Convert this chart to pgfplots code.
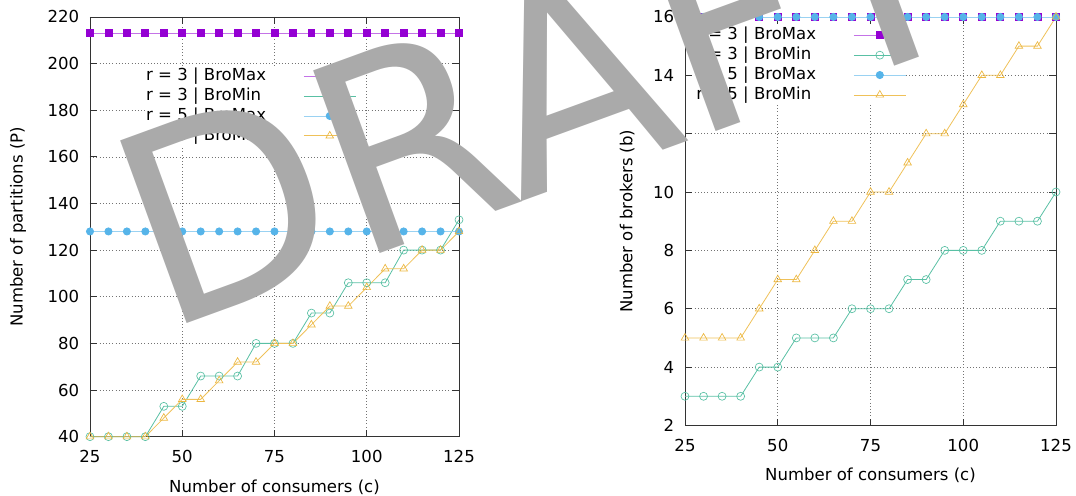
\documentclass[border=0pt]{standalone}
\usepackage{fontspec}
\setmainfont{DejaVu Sans}
\usepackage{pgfplots}
\usepackage{pgfplotstable}
\pgfplotsset{compat=1.18}
\definecolor{cpurple}{HTML}{9400D3}
\definecolor{cgreen}{HTML}{009E73}
\definecolor{cblue}{HTML}{56B4E9}
\definecolor{corange}{HTML}{E69F00}
\definecolor{wmgray}{RGB}{170,170,170}

\pgfplotstableread{
c   pmaxA pminA pmaxB pminB
25  213   40    128   40
30  213   40    128   40
35  213   40    128   40
40  213   40    128   40
45  213   53    128   48
50  213   53    128   56
55  213   66    128   56
60  213   66    128   64
65  213   66    128   72
70  213   80    128   72
75  213   80    128   80
80  213   80    128   80
85  213   93    128   88
90  213   93    128   96
95  213   106   128   96
100 213   106   128   104
105 213   106   128   112
110 213   120   128   112
115 213   120   128   120
120 213   120   128   120
125 213   133   128   128
}\partitions

\pgfplotstableread{
c   bmaxA bminA bmaxB bminB
25  16    3     16    5
30  16    3     16    5
35  16    3     16    5
40  16    3     16    5
45  16    4     16    6
50  16    4     16    7
55  16    5     16    7
60  16    5     16    8
65  16    5     16    9
70  16    6     16    9
75  16    6     16    10
80  16    6     16    10
85  16    7     16    11
90  16    7     16    12
95  16    8     16    12
100 16    8     16    13
105 16    8     16    14
110 16    9     16    14
115 16    9     16    15
120 16    9     16    15
125 16    10    16    16
}\brokers

\pgfplotsset{
  gpstyle/.style={
    scale only axis,
    xmin=25, xmax=125,
    xtick={25,50,75,100,125},
    grid=major,
    grid style={dotted, black!55, line width=0.5pt},
    tick align=inside,
    tick pos=both,
    major tick length=5pt,
    axis line style={black!80, line width=0.6pt},
    tick style={black!80, line width=0.6pt},
    clip=false,
    /pgf/number format/assume math mode=true,
    ticklabel style={font=\fontsize{12.4}{14}\selectfont},
    xticklabel style={anchor=center, yshift=-15pt},
    yticklabel style={anchor=east, inner sep=0pt, xshift=-8pt},
    legend plot pos=right,
    legend cell align=left,
    legend image code/.code={\draw[mark repeat=2, mark phase=2] plot coordinates {(0pt,0pt) (19.5pt,0pt) (39pt,0pt)};},
    legend style={draw=none, fill=white, inner sep=0pt, column sep=27pt, row sep=0pt,
      font=\fontsize{12.4}{14}\selectfont,
      nodes={inner sep=1pt, text height=9.6pt, text depth=3.3pt}},
  },
  sA/.style={color=cpurple!55, line width=0.6pt, mark=square*, mark size=2.6pt, mark options={color=cpurple, fill=cpurple}},
  sB/.style={color=cgreen!65, line width=0.6pt, mark=o, mark size=3pt, mark options={line width=0.5pt, color=cgreen!65}},
  sC/.style={color=cblue!60, line width=0.6pt, mark=*, mark size=2.7pt, mark options={color=cblue, fill=cblue}},
  sD/.style={color=corange!65, line width=0.6pt, mark=triangle, mark size=3.3pt, mark options={line width=0.5pt, color=corange!75}},
}

\begin{document}
\begin{tikzpicture}
\useasboundingbox (0,0) rectangle (807pt,372pt);
\begin{axis}[gpstyle,
  at={(67.5pt,44.5pt)}, anchor=south west,
  width=276.75pt, height=314.8pt,
  ymin=40, ymax=220, ytick={40,60,...,220},
  xlabel={Number of consumers (c)},
  ylabel={Number of partitions (P)},
  every axis x label/.style={at={(axis description cs:0.5,-0.12)}, anchor=center, font=\fontsize{12.4}{14}\selectfont},
  every axis y label/.style={at={(axis description cs:-0.195,0.5)}, rotate=90, anchor=center, font=\fontsize{12.4}{14}\selectfont},
  legend style={at={(axis description cs:0.148,0.883)}, anchor=north west},
]
\addplot[sA] table[x=c, y=pmaxA] {\partitions};
\addlegendentry{r = 3 | BroMax}
\addplot[sB] table[x=c, y=pminA] {\partitions};
\addlegendentry{r = 3 | BroMin}
\addplot[sC] table[x=c, y=pmaxB] {\partitions};
\addlegendentry{r = 5 | BroMax}
\addplot[sD] table[x=c, y=pminB] {\partitions};
\addlegendentry{r = 5 | BroMin}
\end{axis}

\begin{axis}[gpstyle,
  at={(513.75pt,52.9pt)}, anchor=south west,
  width=278.25pt, height=306.4pt,
  ymin=2, ymax=16, ytick={2,4,...,16},
  xlabel={Number of consumers (c)},
  ylabel={Number of brokers (b)},
  every axis x label/.style={at={(axis description cs:0.5,-0.121)}, anchor=center, font=\fontsize{12.4}{14}\selectfont},
  every axis y label/.style={at={(axis description cs:-0.156,0.5)}, rotate=90, anchor=center, font=\fontsize{12.4}{14}\selectfont},
  legend style={at={(axis description cs:0.026,0.98)}, anchor=north west},
]
\addplot[sA] table[x=c, y=bmaxA] {\brokers};
\addlegendentry{r = 3 | BroMax}
\addplot[sB] table[x=c, y=bminA] {\brokers};
\addlegendentry{r = 3 | BroMin}
\addplot[sC] table[x=c, y=bmaxB] {\brokers};
\addlegendentry{r = 5 | BroMax}
\addplot[sD] table[x=c, y=bminB] {\brokers};
\addlegendentry{r = 5 | BroMin}
\end{axis}

\node[overlay, rotate=20, inner sep=0pt, text=wmgray, font=\fontsize{200}{200}\selectfont] at (405pt,303pt) {DRAFT};
\end{tikzpicture}
\end{document}
